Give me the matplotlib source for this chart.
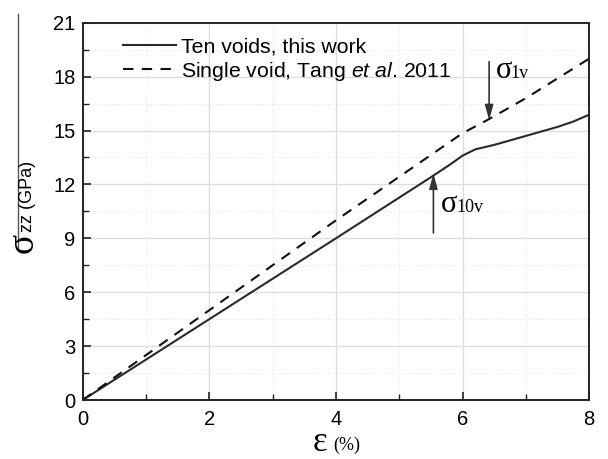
import numpy as np
import matplotlib.pyplot as plt
from matplotlib.lines import Line2D
from matplotlib.ticker import MultipleLocator

plt.rcParams['font.family'] = ['Liberation Sans', 'DejaVu Sans']
plt.rcParams['mathtext.fontset'] = 'custom'
plt.rcParams['mathtext.rm'] = 'Liberation Sans'
plt.rcParams['mathtext.it'] = 'Liberation Sans:italic'

# data
strain_ten = [0, 2, 4, 5.5, 5.8, 6.0, 6.2, 6.5, 7.0, 7.5, 7.75, 8.0]
stress_ten = [0, 4.5, 9.0, 12.4, 13.1, 13.6, 13.95, 14.2, 14.7, 15.2, 15.5, 15.88]
strain_single = [0, 2, 4, 6.0, 6.4, 7.0, 8.0]
stress_single = [0, 5.0, 10.0, 14.85, 15.6, 16.8, 19.0]

labels = ["Ten voids, this work", r"Single void, Tang $\it{et\ al}$. 2011"]

fig = plt.figure(figsize=(6.08, 4.59), dpi=100)
ax = fig.add_axes([0.136, 0.1285, 0.833, 0.822])

ax.plot(strain_ten, stress_ten, color='#2a2a2a', lw=1.5, label=labels[0])
ax.plot(strain_single, stress_single, color='#111111', lw=1.5, ls=(0, (5, 4)), label=labels[1])

ax.set_xlim(0, 8)
ax.set_ylim(0, 21)
ax.xaxis.set_major_locator(MultipleLocator(2))
ax.xaxis.set_minor_locator(MultipleLocator(1))
ax.yaxis.set_major_locator(MultipleLocator(3))
ax.yaxis.set_minor_locator(MultipleLocator(1.5))
ax.tick_params(which='both', direction='in', labelsize=14.5, color='#222')
ax.tick_params(which='major', length=6, width=1.2)
ax.tick_params(which='minor', length=4, width=1.0)
ax.tick_params(axis='x', pad=7)
ax.tick_params(axis='y', pad=5)
ax.grid(which='major', color='#dddddd', lw=1.0)
ax.grid(which='minor', color='#e6e6e6', lw=0.8, ls=':')
ax.set_axisbelow(True)
for s in ax.spines.values():
    s.set_linewidth(1.4)
    s.set_color('#222')

ax.legend(loc='upper left', bbox_to_anchor=(0.055, 0.995), frameon=False,
          fontsize=15.3, handlelength=2.5, handletextpad=0.2, labelspacing=0.15,
          borderaxespad=0.2)

# arrows
arrow = dict(arrowstyle='-|>,head_length=0.9,head_width=0.25', color='#333', lw=1.2,
             shrinkA=0, shrinkB=0)
ax.annotate('', xy=(6.42, 15.58), xytext=(6.42, 18.83), arrowprops=arrow)
ax.annotate('', xy=(5.54, 12.6), xytext=(5.54, 9.3), arrowprops=arrow)
ax.text(6.52, 17.95, 'σ', fontsize=22, family='Liberation Serif', ha='left', va='baseline')
ax.text(6.76, 17.95, '1v', fontsize=13, family='Liberation Serif', ha='left', va='baseline')
ax.text(5.66, 10.45, 'σ', fontsize=22, family='Liberation Serif', ha='left', va='baseline')
ax.text(5.90, 10.45, '10v', fontsize=13, family='Liberation Serif', ha='left', va='baseline')

# axis labels
fig.text(0.527, 0.037, 'ε', fontsize=25, family='Liberation Serif', ha='center', va='center')
fig.text(0.571, 0.03, '(%)', fontsize=13, family='Liberation Serif', ha='center', va='center')
fig.text(0.039, 0.47, 'σ', fontsize=27, family='Liberation Serif', rotation=90,
         ha='center', va='center')
fig.text(0.046, 0.573, 'zz (GPa)', fontsize=13, rotation=90, ha='center', va='center')
fig.add_artist(Line2D([0.029, 0.029], [0.455, 0.97], transform=fig.transFigure,
                      color='#555', lw=1.0))

plt.savefig('out.png', dpi=100)
